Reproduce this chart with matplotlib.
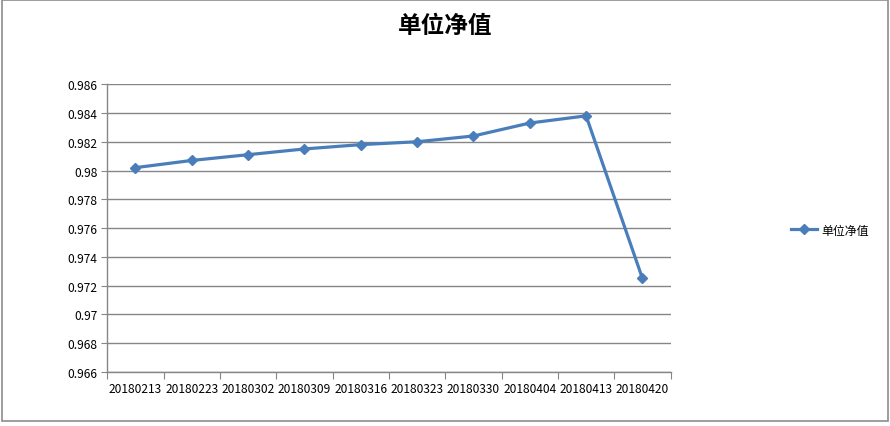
import matplotlib
matplotlib.use("Agg")
import matplotlib.pyplot as plt
from matplotlib.patches import Rectangle
from matplotlib.ticker import FuncFormatter, FixedLocator

plt.rcParams['font.family'] = ['Noto Sans CJK SC', 'DejaVu Sans']

# data
dates = ['20180213', '20180223', '20180302', '20180309', '20180316',
         '20180323', '20180330', '20180404', '20180413', '20180420']
nav = [0.9802, 0.9807, 0.9811, 0.9815, 0.9818,
       0.9820, 0.9824, 0.9833, 0.9838, 0.9725]
yticks = [0.966, 0.968, 0.970, 0.972, 0.974, 0.976, 0.978,
          0.980, 0.982, 0.984, 0.986]

line_col = '#4A7EBB'
grid_col = '#868686'

fig = plt.figure(figsize=(8.9, 4.27), dpi=100)
# outer chart border
fig.patches.append(Rectangle((0.0028, 0.0117), 0.995, 0.987, transform=fig.transFigure,
                             fill=False, edgecolor='#8c8c8c', linewidth=1.2))

ax = fig.add_axes([0.1205, 0.1265, 0.633, 0.674])
x = list(range(len(dates)))
ax.plot(x, nav, color=line_col, linewidth=2.3, marker='D', markersize=5,
        label='单位净值')

ax.set_xlim(-0.5, len(dates) - 0.5)
ax.set_ylim(yticks[0], yticks[-1])
ax.set_yticks(yticks)
ax.yaxis.set_major_formatter(FuncFormatter(lambda v, p: '%g' % round(v, 3)))
ax.yaxis.grid(True, color=grid_col, linewidth=1)
ax.set_axisbelow(True)

# category axis: tick marks between categories, labels centred
ax.xaxis.set_major_locator(FixedLocator([i - 0.5 for i in range(len(dates) + 1)]))
ax.xaxis.set_major_formatter(FuncFormatter(lambda v, p: ''))
ax.xaxis.set_minor_locator(FixedLocator(x))
ax.set_xticklabels(dates, minor=True)
ax.tick_params(axis='x', which='minor', length=0, pad=7, labelsize=8.6)
ax.tick_params(axis='x', which='major', length=5, color=grid_col)
ax.tick_params(axis='y', length=4, color=grid_col, labelsize=8.6, pad=3)

for s in ['top', 'right']:
    ax.spines[s].set_visible(False)
for s in ['left', 'bottom']:
    ax.spines[s].set_color(grid_col)
    ax.spines[s].set_linewidth(1)

fig.text(0.5, 0.94, '单位净值', ha='center', va='center', fontsize=17,
         fontweight='bold')

ax.legend(loc='center left', bbox_to_anchor=(1.195, 0.493), frameon=False,
          fontsize=8.6, handlelength=2.2, handletextpad=0.3)

fig.savefig('out.png', dpi=100)
